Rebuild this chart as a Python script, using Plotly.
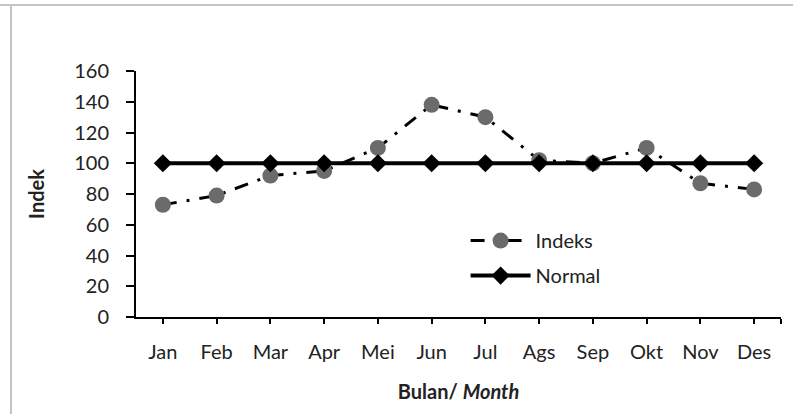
import plotly.graph_objects as go

months = ["Jan", "Feb", "Mar", "Apr", "Mei", "Jun", "Jul", "Ags", "Sep", "Okt", "Nov", "Des"]
indeks = [73, 79, 92, 95, 110, 138, 130, 102, 100, 110, 87, 83]
normal = [100, 100, 100, 100, 100, 100, 100, 100, 100, 100, 100, 100]
y_ticks = [0, 20, 40, 60, 80, 100, 120, 140, 160]

x = list(range(len(months)))
FONT = "Lato, 'Open Sans', sans-serif"

fig = go.Figure()
fig.add_trace(go.Scatter(
    x=x, y=indeks, name="Indeks", mode="lines+markers", legendgroup="i",
    line=dict(color="black", width=3, dash="14px,10px,3px,10px"),
    marker=dict(symbol="circle", size=16, color="#6b6b6b"),
))
fig.add_trace(go.Scatter(
    x=x, y=normal, name="Normal", mode="lines+markers", legendgroup="n",
    line=dict(color="black", width=4),
    marker=dict(symbol="diamond", size=14, color="black"),
))

fig.update_layout(
    width=793, height=414,
    margin=dict(l=136, r=12, t=71, b=97),
    paper_bgcolor="white", plot_bgcolor="white",
    font=dict(family=FONT, size=20, color="#222"),
    showlegend=True,
    legend=dict(
        x=0.511, y=0.39, xanchor="left", yanchor="top",
        traceorder="grouped", bgcolor="rgba(0,0,0,0)",
        font=dict(size=20), tracegroupgap=6, itemwidth=60,
    ),
    xaxis=dict(
        range=[-0.5, 11.5],
        tickmode="array", tickvals=x + [11.5], ticktext=months + [""],
        showgrid=False, zeroline=False,
        showline=True, linecolor="black", linewidth=2,
        ticks="outside", ticklen=5, tickwidth=2, tickcolor="black",
        ticklabelstandoff=11,
        title=dict(text="<b>Bulan/ <i>Month</i></b>", font=dict(size=20), standoff=23),
    ),
    yaxis=dict(
        range=[0, 160],
        tickmode="array", tickvals=y_ticks,
        showgrid=False, zeroline=False,
        showline=True, linecolor="black", linewidth=2,
        ticks="outside", ticklen=8, tickwidth=2, tickcolor="black",
        ticklabelstandoff=13,
        title=dict(text="<b>Indek</b>", font=dict(size=20), standoff=24),
    ),
    shapes=[
        dict(type="line", xref="paper", yref="paper", x0=-136/645, x1=1 + 12/645,
             y0=1 + 66/246, y1=1 + 66/246, line=dict(color="#c4c4c4", width=2)),
        dict(type="line", xref="paper", yref="paper", x0=-125/645, x1=-125/645,
             y0=-97/246, y1=1 + 66/246, line=dict(color="#c4c4c4", width=2)),
    ],
)

fig.write_html("out.html", config={"displayModeBar": False},
               post_script="document.body.style.margin='0';")
